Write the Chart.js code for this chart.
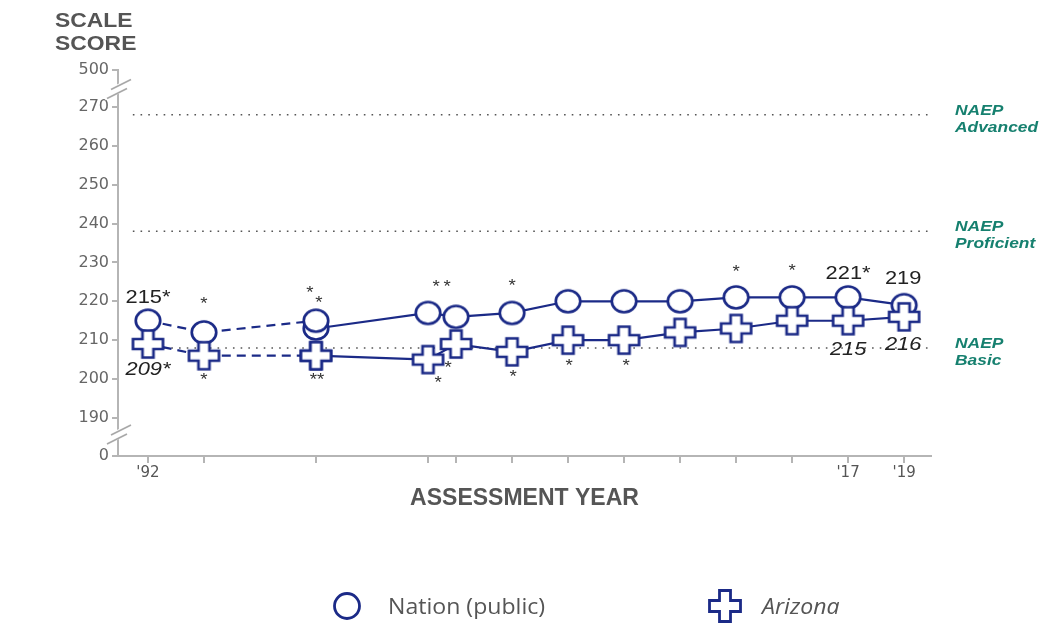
<!DOCTYPE html>
<html><head><meta charset="utf-8">
<script src="https://cdn.jsdelivr.net/npm/chart.js@4.4.1/dist/chart.umd.min.js"></script>
<style>html,body{margin:0;padding:0;background:#fff;overflow:hidden}#wrap{position:relative;width:1042px;height:625px}canvas{display:block}</style>
</head><body><div id="wrap"><canvas id="c" width="1042" height="625" style="width:1042px;height:625px"></canvas></div>
<script>
// ---------- DATA ----------
const yearsEarly = [1992, 1994, 1998];
const nationEarly = [215, 212, 215];
const arizonaEarly = [209, 206, 206];
const yearsMain = [1998, 2002, 2003, 2005, 2007, 2009, 2011, 2013, 2015, 2017, 2019];
const nationMain = [213, 217, 216, 217, 220, 220, 220, 221, 221, 221, 219];
const arizonaMain = [206, 205, 209, 207, 210, 210, 212, 213, 215, 215, 216];
const tickYears = [1992, 1994, 1998, 2002, 2003, 2005, 2007, 2009, 2011, 2013, 2015, 2017, 2019];
const tickYearLabels = ["'92", "", "", "", "", "", "", "", "", "", "", "'17", "'19"];
const yTickValues = [180.2, 190, 200, 210, 220, 230, 240, 250, 260, 270, 279.5];
const yTickLabels = ['0', '190', '200', '210', '220', '230', '240', '250', '260', '270', '500'];
const levelNames = [['NAEP', 'Advanced'], ['NAEP', 'Proficient'], ['NAEP', 'Basic']];
const levelScores = [268, 238, 208];
const seriesNames = ['Nation (public)', 'Arizona'];

// ---------- STYLE ----------
const NAVY = '#1b2a87';
const X_MIN = 1990.93, X_MAX = 2019.96, LEVEL_X0 = 1991.46;

function ellipseImg(w, h, lw) {
  const c = document.createElement('canvas');
  c.width = Math.ceil(w + lw + 2); c.height = Math.ceil(h + lw + 2);
  const g = c.getContext('2d');
  g.beginPath(); g.ellipse(c.width / 2, c.height / 2, w / 2, h / 2, 0, 0, Math.PI * 2);
  g.fillStyle = '#fff'; g.fill(); g.lineWidth = lw; g.strokeStyle = NAVY; g.stroke();
  return c;
}
function plusPath(g, cx, cy, w, h, aw, ah) {
  const x0 = cx - w / 2, x1 = cx - aw / 2, x2 = cx + aw / 2, x3 = cx + w / 2;
  const y0 = cy - h / 2, y1 = cy - ah / 2, y2 = cy + ah / 2, y3 = cy + h / 2;
  g.beginPath();
  g.moveTo(x1, y0); g.lineTo(x2, y0); g.lineTo(x2, y1); g.lineTo(x3, y1); g.lineTo(x3, y2);
  g.lineTo(x2, y2); g.lineTo(x2, y3); g.lineTo(x1, y3); g.lineTo(x1, y2); g.lineTo(x0, y2);
  g.lineTo(x0, y1); g.lineTo(x1, y1); g.closePath();
}
function plusImg(w, h, aw, ah, lw) {
  const c = document.createElement('canvas');
  c.width = Math.ceil(w + lw + 2); c.height = Math.ceil(h + lw + 2);
  const g = c.getContext('2d');
  plusPath(g, c.width / 2, c.height / 2, w, h, aw, ah);
  g.fillStyle = '#fff'; g.fill(); g.lineWidth = lw; g.strokeStyle = NAVY; g.lineJoin = 'miter'; g.stroke();
  return c;
}
const circleStyle = ellipseImg(24.5, 22, 2.7);
const plusStyle = plusImg(30, 27, 11, 10, 2.7);

function xy(xs, ys) { return xs.map((x, i) => ({ x: x, y: ys[i] })); }

function sText(ctx, text, x, y, font, color, align, sx) {
  ctx.save();
  ctx.translate(x, y); ctx.scale(sx || 1, 1);
  ctx.font = font; ctx.fillStyle = color; ctx.textAlign = align || 'left'; ctx.textBaseline = 'alphabetic';
  ctx.fillText(text, 0, 0);
  ctx.restore();
}

// notes: dataset index, point index, text, pixel offset of glyph centre
const notes = [
  [3, 0, '215*', 0, -25, 'n'], [3, 1, '*', 0, -32, 'a'], [3, 2, '*', -6, -32, 'a'], [4, 0, '*', 3, -29, 'a'],
  [4, 1, '*', 8, -30, 'a'], [4, 2, '*', -9, -34, 'a'], [4, 3, '*', 0, -31, 'a'],
  [4, 7, '*', 0, -29, 'a'], [4, 8, '*', 0, -30, 'a'], [4, 9, '221*', 0, -25, 'n'], [4, 10, '219', -1, -28, 'n'],
  [5, 0, '209*', 0, 24, 'ni'], [5, 1, '*', 0, 20, 'a'], [6, 0, '**', 1, 20, 'a'],
  [6, 1, '*', 10, 19, 'a'], [6, 2, '*', -8, 20, 'a'], [6, 3, '*', 1, 21, 'a'], [6, 4, '*', 1, 22, 'a'],
  [6, 5, '*', 2, 22, 'a'], [6, 9, '215', 0, 27, 'ni'], [6, 10, '216', -1, 26, 'ni']
];

const decor = {
  id: 'decor',
  afterDatasetsDraw(chart) {
    const ctx = chart.ctx;
    const ys = chart.scales.y;
    const ax = ys.right;
    function brk(cy) {
      ctx.save();
      ctx.fillStyle = '#fff';
      ctx.beginPath();
      ctx.moveTo(ax - 9, cy - 1); ctx.lineTo(ax + 11, cy - 11); ctx.lineTo(ax + 7, cy + 1); ctx.lineTo(ax - 13, cy + 11); ctx.closePath();
      ctx.fill();
      ctx.strokeStyle = '#a8a8a8'; ctx.lineWidth = 1.6;
      ctx.beginPath(); ctx.moveTo(ax - 7, cy); ctx.lineTo(ax + 13, cy - 10); ctx.stroke();
      ctx.beginPath(); ctx.moveTo(ax - 11, cy + 9); ctx.lineTo(ax + 9, cy - 1); ctx.stroke();
      ctx.restore();
    }
    brk((ys.getPixelForValue(yTickValues[10]) + ys.getPixelForValue(yTickValues[9])) / 2 + 1);
    brk((ys.getPixelForValue(yTickValues[0]) + ys.getPixelForValue(yTickValues[1])) / 2 - 2);
    notes.forEach(n => {
      const el = chart.getDatasetMeta(n[0]).data[n[1]];
      const x = el.x + n[3], y = el.y + n[4];
      if (n[5] === 'a') sText(ctx, n[2], x, y + 9, '17px "Liberation Sans", Arial, sans-serif', '#333', 'center', 1.1);
      else if (n[5] === 'n') sText(ctx, n[2], x, y + 7, '19px "Liberation Sans", Arial, sans-serif', '#222', 'center', 1.15);
      else sText(ctx, n[2], x, y + 7, 'italic 19px "Liberation Sans", Arial, sans-serif', '#222', 'center', 1.15);
    });
  },
  afterDraw(chart) {
    const ctx = chart.ctx;
    const ys = chart.scales.y;
    levelScores.forEach((s, i) => {
      const py = ys.getPixelForValue(s);
      sText(ctx, levelNames[i][0], 955, py - 0, 'italic bold 15px "Liberation Sans", Arial, sans-serif', '#16806f', 'left', 1.16);
      sText(ctx, levelNames[i][1], 955, py + 17, 'italic bold 15px "Liberation Sans", Arial, sans-serif', '#16806f', 'left', 1.16);
    });
    sText(ctx, 'SCALE', 55, 27, 'bold 21px "Liberation Sans", Arial, sans-serif', '#555', 'left', 1.09);
    sText(ctx, 'SCORE', 55, 50, 'bold 21px "Liberation Sans", Arial, sans-serif', '#555', 'left', 1.09);
    ctx.save();
    ctx.beginPath(); ctx.arc(347, 606, 12.5, 0, Math.PI * 2);
    ctx.fillStyle = '#fff'; ctx.fill(); ctx.lineWidth = 2.8; ctx.strokeStyle = NAVY; ctx.stroke();
    plusPath(ctx, 725, 606, 31, 31, 11, 11);
    ctx.fill(); ctx.stroke();
    ctx.restore();
    sText(ctx, seriesNames[0], 388, 614, '21px "Open Sans", sans-serif', '#555', 'left', 1.1);
    sText(ctx, seriesNames[1], 762, 614, 'italic 21px "Open Sans", sans-serif', '#555', 'left', 1.1);
  }
};

function levelDs(score) {
  return { type: 'line', data: [{ x: LEVEL_X0, y: score }, { x: X_MAX, y: score }], borderColor: '#555',
    borderWidth: 1.6, borderDash: [1.6, 6.1], pointRadius: 0, order: 5, clip: false };
}
function seriesDs(label, data, style, dashed, order) {
  return { label: label, data: data, borderColor: NAVY, borderWidth: 2.2, borderDash: dashed ? [9, 6] : [],
    pointStyle: style, pointRadius: 12, backgroundColor: '#fff', pointBorderColor: NAVY, order: order, clip: false };
}

new Chart(document.getElementById('c'), {
  type: 'line',
  data: {
    datasets: [
      levelDs(levelScores[0]), levelDs(levelScores[1]), levelDs(levelScores[2]),
      seriesDs(seriesNames[0], xy(yearsEarly, nationEarly), circleStyle, true, 2),
      seriesDs(seriesNames[0], xy(yearsMain, nationMain), circleStyle, false, 2),
      seriesDs(seriesNames[1], xy(yearsEarly, arizonaEarly), plusStyle, true, 1),
      seriesDs(seriesNames[1], xy(yearsMain, arizonaMain), plusStyle, false, 1)
    ]
  },
  options: {
    responsive: false, maintainAspectRatio: false, animation: false, events: [],
    layout: { padding: { left: 0, right: 111, top: 70, bottom: 113 } },
    plugins: { legend: { display: false }, tooltip: { enabled: false } },
    scales: {
      x: {
        type: 'linear', min: X_MIN, max: X_MAX,
        afterBuildTicks: s => { s.ticks = tickYears.map(v => ({ value: v })); },
        afterFit: s => { s.height = 56; },
        ticks: { autoSkip: false, maxRotation: 0, padding: 1, color: '#555',
          font: { family: '"DejaVu Sans", sans-serif', size: 15 },
          callback: (v, i) => tickYearLabels[i] },
        grid: { display: true, drawOnChartArea: false, drawTicks: true, tickLength: 7, color: '#b5b5b5', lineWidth: 2 },
        border: { display: true, color: '#b5b5b5', width: 2 },
        title: { display: true, text: 'ASSESSMENT YEAR', color: '#555', padding: { top: 0, bottom: 0 },
          font: { family: '"Liberation Sans", Arial, sans-serif', size: 23, weight: 'bold' } }
      },
      y: {
        type: 'linear', min: 180.2, max: 279.5,
        afterBuildTicks: s => { s.ticks = yTickValues.map(v => ({ value: v })); },
        afterFit: s => { s.width = 118; },
        ticks: { autoSkip: false, padding: 3, color: '#666',
          font: { family: '"DejaVu Sans", sans-serif', size: 16 },
          callback: (v, i) => yTickLabels[i] },
        grid: { display: true, drawOnChartArea: false, drawTicks: true, tickLength: 6, color: '#b5b5b5', lineWidth: 2 },
        border: { display: true, color: '#b5b5b5', width: 2 }
      }
    }
  },
  plugins: [decor]
});
</script></body></html>
